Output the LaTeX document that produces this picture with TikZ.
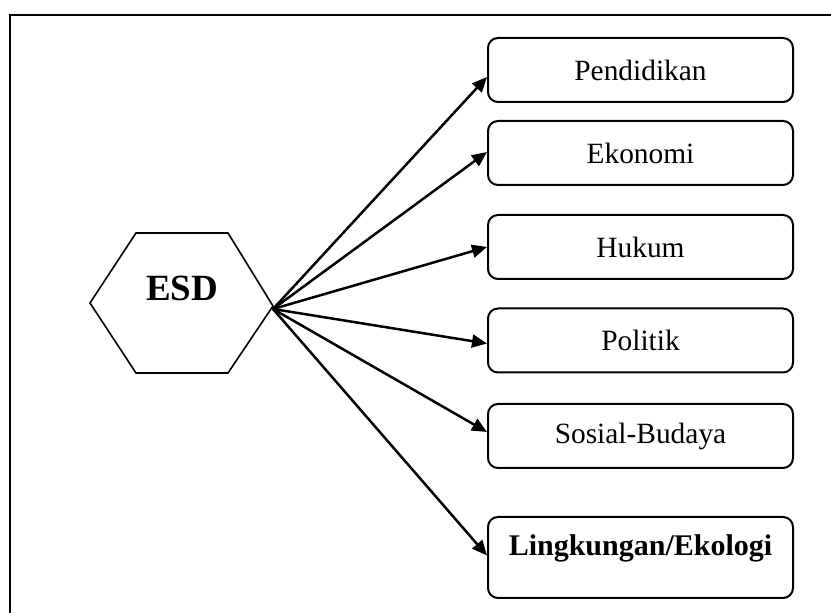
\documentclass[tikz,border=0pt]{standalone}
\usepackage{fontspec}
\setmainfont{Liberation Serif}
\usetikzlibrary{arrows.meta}
\begin{document}
\begin{tikzpicture}[x=0.5pt,y=-0.5pt,
  box/.style={draw,line width=1pt,rounded corners=5pt,minimum width=152.5pt,minimum height=32pt,inner sep=0pt,font=\fontsize{14.7}{17}\selectfont},
  arr/.style={line width=1.25pt,-{Triangle[length=7.5pt,width=6.5pt]}},
  frame/.style={line width=1pt}]
\useasboundingbox (0,0) rectangle (831,613);
\draw[frame] (10,613) -- (10,15) -- (831,15);
% hexagon
\draw[line width=0.8pt] (90,303) -- (136,233) -- (228,233) -- (273,306) -- (228,373) -- (136,373) -- cycle;
\node[font=\bfseries\fontsize{18.5}{22}\selectfont] (esd) at (182,288) {ESD};
\coordinate (src) at (273,309);
% boxes
\node[box] (b1) at (640.5,70) {Pendidikan};
\node[box] (b2) at (640.5,153) {Ekonomi};
\node[box] (b3) at (640.5,247) {Hukum};
\node[box] (b4) at (640.5,340.5) {Politik};
\node[box] (b5) at (640.5,436) {Sosial-Budaya};
\node[box,minimum height=40.5pt,text height=19.5pt,text depth=21pt,font=\bfseries\fontsize{15}{18}\selectfont] (b6) at (640.5,557.5) {Lingkungan/Ekologi};
% arrows
\draw[arr] (src) -- ([yshift=-3.5pt]b1.west);
\draw[arr] (src) -- ([yshift=0.5pt]b2.west);
\draw[arr] (src) -- (b3.west);
\draw[arr] (src) -- ([yshift=-1.5pt]b4.west);
\draw[arr] (src) -- ([yshift=2pt]b5.west);
\draw[arr] (src) -- ([yshift=1pt]b6.west);
\end{tikzpicture}
\end{document}
